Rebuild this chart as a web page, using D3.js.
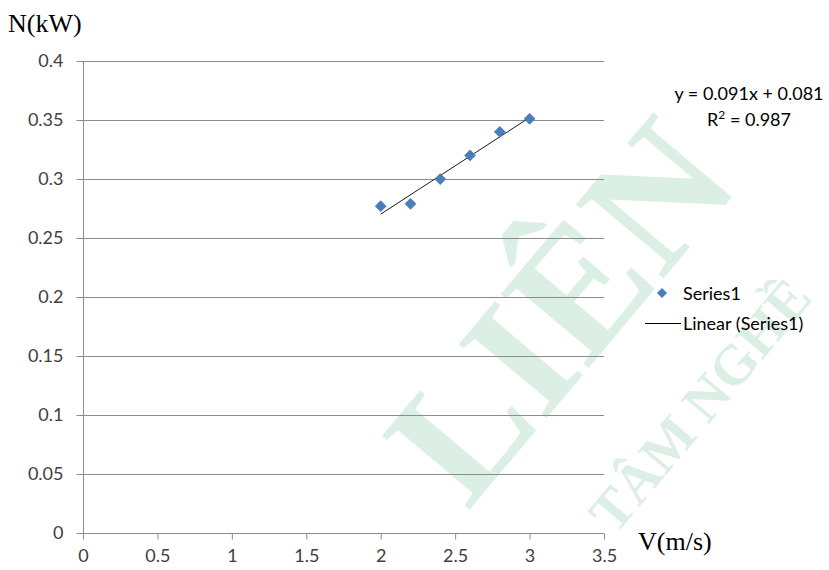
<!DOCTYPE html>
<html>
<head>
<meta charset="utf-8">
<script src="https://cdn.jsdelivr.net/npm/d3@7"></script>
<style>
  html, body { margin: 0; padding: 0; background: #fff; }
  svg { display: block; }
</style>
</head>
<body>
<svg id="chart" width="829" height="570"></svg>
<script>
// ---- data ----
const speeds = [2.0, 2.2, 2.4, 2.6, 2.8, 3.0];          // V (m/s)
const powers = [0.277, 0.279, 0.300, 0.320, 0.340, 0.351]; // N (kW)
const xTicks = [0, 0.5, 1, 1.5, 2, 2.5, 3, 3.5];
const yTicks = [0, 0.05, 0.1, 0.15, 0.2, 0.25, 0.3, 0.35, 0.4];
const seriesName = "Series1";
const trendName = "Linear (Series1)";
const equationText = "y = 0.091x + 0.081";
const r2Value = "0.987";
const xTitle = "V(m/s)";
const yTitle = "N(kW)";
const watermarkMain = "LIÊN";
const watermarkSub = "TÂM NGHỀ";

(function () {
// ---- layout ----
const svg = d3.select("#chart");
const pLeft = 83, pRight = 604, pTop = 61, pBottom = 533;
const x = d3.scaleLinear().domain([0, 3.5]).range([pLeft, pRight]);
const y = d3.scaleLinear().domain([0, 0.4]).range([pBottom, pTop]);
const gridColor = "#8c8c8c";
const tickFont = "Lato, 'Open Sans', sans-serif";
const serif = "'Liberation Serif', 'Times New Roman', serif";

// watermark (faint)
const wm = svg.append("g").attr("fill", "#dbefe4").attr("font-family", serif).attr("font-weight", "bold");
wm.append("text").attr("transform", "translate(560,310) rotate(-50)")
  .attr("text-anchor", "middle").attr("dominant-baseline", "central").attr("font-size", 175).text(watermarkMain);
wm.append("text").attr("transform", "translate(700,405) rotate(-50)")
  .attr("text-anchor", "middle").attr("dominant-baseline", "central").attr("font-size", 56).text(watermarkSub);

// gridlines
svg.append("g").selectAll("line").data(yTicks.filter(d => d > 0)).join("line")
  .attr("x1", pLeft).attr("x2", pRight)
  .attr("y1", d => Math.round(y(d)) + 0.5).attr("y2", d => Math.round(y(d)) + 0.5)
  .attr("stroke", gridColor).attr("stroke-width", 1);

// y axis
const yAxis = d3.axisLeft(y).tickValues(yTicks).tickSize(7).tickPadding(13)
  .tickFormat(d => String(+d.toFixed(2)));
const gy = svg.append("g").attr("transform", `translate(${pLeft + 0.5},0)`).call(yAxis);
gy.select(".domain").attr("stroke", gridColor).attr("d", `M0,${pTop}V${pBottom}`);
gy.selectAll(".tick line").attr("stroke", gridColor);
gy.selectAll(".tick").attr("transform", d => `translate(0,${Math.round(y(d)) + 0.5})`);
gy.selectAll("text").attr("font-family", tickFont).attr("font-size", 18).attr("fill", "#404040");

// x axis
const xAxis = d3.axisBottom(x).tickValues(xTicks).tickSize(6).tickPadding(10)
  .tickFormat(d => String(d));
const gx = svg.append("g").attr("transform", `translate(0,${pBottom + 0.5})`).call(xAxis);
gx.select(".domain").attr("stroke", gridColor).attr("d", `M${pLeft},0H${pRight}`);
gx.selectAll(".tick line").attr("stroke", gridColor);
gx.selectAll("text").attr("font-family", tickFont).attr("font-size", 18).attr("fill", "#404040");

// trendline (least squares from data)
const mx = d3.mean(speeds), my = d3.mean(powers);
const slope = d3.sum(speeds.map((v, i) => (v - mx) * (powers[i] - my))) /
              d3.sum(speeds.map(v => (v - mx) ** 2));
const intercept = my - slope * mx;
const xMin = d3.min(speeds), xMax = d3.max(speeds);
svg.append("line")
  .attr("x1", x(xMin)).attr("y1", y(slope * xMin + intercept))
  .attr("x2", x(xMax)).attr("y2", y(slope * xMax + intercept))
  .attr("stroke", "#1a1a1a").attr("stroke-width", 1);

// markers
const diamond = d3.symbol().type(d3.symbolDiamond2).size(88);
svg.append("g").selectAll("path").data(speeds.map((v, i) => [v, powers[i]])).join("path")
  .attr("d", diamond)
  .attr("transform", d => `translate(${x(d[0])},${y(d[1])})`)
  .attr("fill", "#4a7ebb");

// axis titles
svg.append("text").attr("x", 8).attr("y", 32).text(yTitle)
  .attr("font-family", serif).attr("font-size", 26).attr("fill", "#000");
svg.append("text").attr("x", 638).attr("y", 550).text(xTitle)
  .attr("font-family", serif).attr("font-size", 26).attr("fill", "#000");

// equation
const eq = svg.append("g").attr("font-family", tickFont).attr("font-size", 18).attr("fill", "#000").attr("text-anchor", "middle");
eq.append("text").attr("x", 749).attr("y", 100).text(equationText);
const r2 = eq.append("text").attr("x", 749).attr("y", 126);
r2.append("tspan").text("R");
r2.append("tspan").attr("font-size", 12).attr("dy", -7).text("2");
r2.append("tspan").attr("dy", 7).text(" = " + r2Value);

// legend
const lg = svg.append("g").attr("font-family", tickFont).attr("font-size", 18).attr("fill", "#000");
lg.append("path").attr("d", d3.symbol().type(d3.symbolDiamond2).size(66)).attr("transform", "translate(662,293)").attr("fill", "#4a7ebb");
lg.append("text").attr("x", 683).attr("y", 300).text(seriesName);
lg.append("line").attr("x1", 645).attr("x2", 681).attr("y1", 323.5).attr("y2", 323.5).attr("stroke", "#000");
lg.append("text").attr("x", 683).attr("y", 330).text(trendName);
})();
</script>
</body>
</html>
